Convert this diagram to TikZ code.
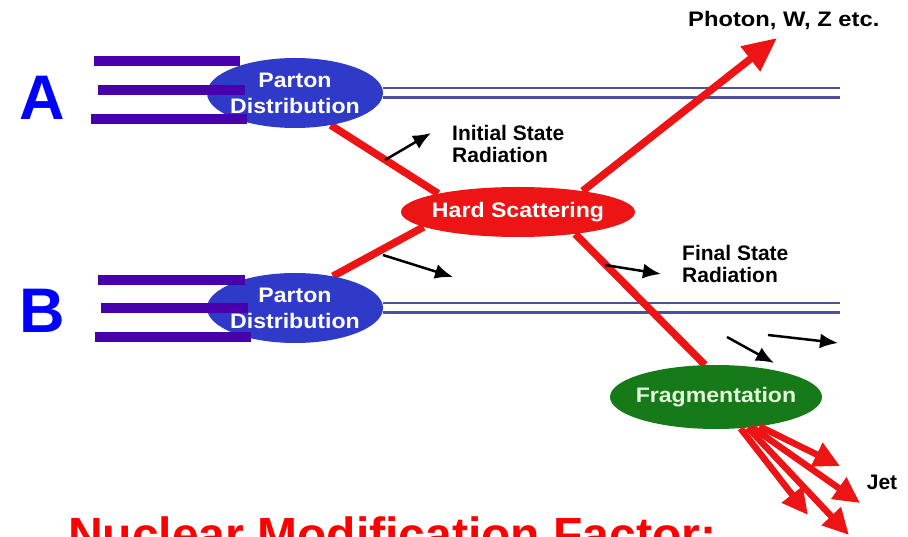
\documentclass[tikz,border=0pt]{standalone}
\usepackage{fontspec}
\setmainfont{Liberation Sans}
\newfontfamily\widesf{Liberation Sans}[FakeStretch=1.1]
\usetikzlibrary{shapes.geometric,arrows.meta,backgrounds}

\definecolor{beamviolet}{RGB}{72,0,172}
\definecolor{partonblue}{RGB}{48,58,200}
\definecolor{hardred}{RGB}{236,20,20}
\definecolor{fraggreen}{RGB}{22,122,24}
\definecolor{fragtext}{RGB}{228,246,218}
\definecolor{mediumline}{RGB}{78,78,158}

\begin{document}
\begin{tikzpicture}[x=1pt,y=-1pt,
    blob/.style={ellipse, inner sep=0pt, inner xsep=-8pt, text=white, align=center,
      font=\widesf\bfseries\fontsize{21}{26}\selectfont},
    parton/.style={blob, fill=partonblue, minimum width=176pt, minimum height=70pt},
    hard/.style={blob, fill=hardred, minimum width=234pt, minimum height=50pt},
    frag/.style={blob, fill=fraggreen, text=fragtext, minimum width=212pt, minimum height=64pt},
    nucleus/.style={text=blue, inner sep=0pt, font=\bfseries\fontsize{63}{63}\selectfont},
    lab/.style={inner sep=0pt, align=left, font=\bfseries\fontsize{21}{22}\selectfont},
    beam/.style={beamviolet, line width=10pt},
    medium/.style={draw=mediumline, line width=2.5pt, double=white, double distance=7pt},
    quark/.style={hardred, line width=7.5pt},
    gluon/.style={black, line width=2.5pt, -{Latex[length=18pt,width=15pt]}},
    jetline/.style={hardred, line width=6.5pt, -{Triangle[length=26pt,width=25pt]}}
  ]
  \useasboundingbox (0,0) rectangle (908,537);
  \clip (0,0) rectangle (908,537);

  % Kerne A und B
  \node[nucleus] (nA) at (42,98) {A};
  \node[nucleus] (nB) at (42,311) {B};

  % Ellipsen
  \node[parton] (pdA) at (295,93) {Parton\\Distribution};
  \node[parton] (pdB) at (295,308) {Parton\\Distribution};
  \node[hard] (hs) at (518,212) {Hard Scattering};
  \node[frag] (fr) at (716,397) {Fragmentation};

  \coordinate (mA) at (840,93);
  \coordinate (mB) at (840,308);
  \coordinate (photon) at (777,38);

  \begin{scope}[on background layer]
    \draw[medium] (pdA) -- (mA);
    \draw[medium] (pdB) -- (mB);
    \draw[quark] (pdA.-42) -- (hs.167);
    \draw[quark] (pdB.40) -- (hs.189);
    \draw[quark] (hs.-21) -- (fr.109);
    \draw[quark, -{Triangle[length=34pt,width=30pt]}] (hs.18) -- (photon);
  \end{scope}

  % einlaufende Strahlen
  \foreach \xa/\xb/\y in {94/240/61, 98/245/90, 91/247/119,
                          98/245/280, 101/248/308, 95/251/337}
    \draw[beam] (\xa,\y) -- (\xb,\y);

  % Abstrahlung
  \coordinate (g1s) at (385,160);
  \coordinate (g1e) at (431,133);
  \coordinate (g2s) at (383,255);
  \coordinate (g2e) at (453,277);
  \coordinate (g3s) at (605,265);
  \coordinate (g3e) at (661,274);
  \coordinate (g4s) at (727,337);
  \coordinate (g4e) at (774,363);
  \coordinate (g5s) at (768,335);
  \coordinate (g5e) at (838,343);
  \draw[gluon] (g1s) -- (g1e);
  \draw[gluon] (g2s) -- (g2e);
  \draw[gluon] (g3s) -- (g3e);
  \draw[gluon] (g4s) -- (g4e);
  \draw[gluon] (g5s) -- (g5e);

  % Jet
  \coordinate (j1) at (840,466);
  \coordinate (j2) at (860,503);
  \coordinate (j3) at (808,515);
  \coordinate (j4) at (849,535);
  \draw[jetline] (fr.-34) -- (j1);
  \draw[jetline] (fr.-40) -- (j2);
  \draw[jetline] (fr.-52) -- (j3);
  \draw[jetline] (fr.-44) -- (j4);

  \node[lab, anchor=north west] (isr) at (452,125) {Initial State\\Radiation};
  \node[lab, anchor=north west] (fsr) at (682,245) {Final State\\Radiation};
  \node[lab, anchor=west] (plab) at (688,21) {\scalebox{1.13}[1]{Photon, W, Z etc.}};
  \node[lab] (jlab) at (882,482) {Jet};

  \node[anchor=base west, inner sep=0pt, text=red,
        font=\bfseries\fontsize{48}{48}\selectfont] (raa) at (68,551) {Nuclear Modification Factor:};
\end{tikzpicture}
\end{document}
